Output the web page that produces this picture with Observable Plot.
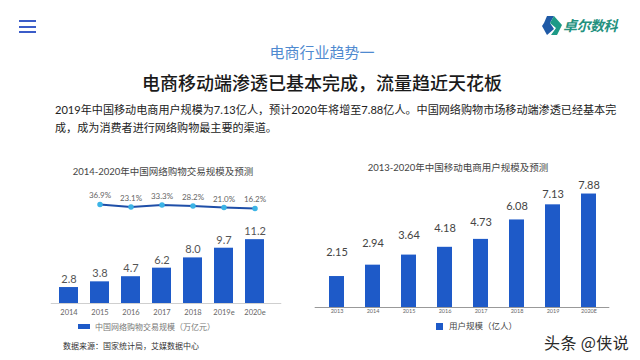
<!DOCTYPE html>
<html>
<head>
<meta charset="utf-8">
<script src="https://cdn.jsdelivr.net/npm/d3@7"></script>
<script src="https://cdn.jsdelivr.net/npm/@observablehq/plot@0.6"></script>
<style>
  html, body { margin: 0; padding: 0; background: #fff; }
  #page { position: relative; width: 640px; height: 360px; overflow: hidden; background: #fff;
    font-family: Lato, "Noto Sans CJK SC", sans-serif; }
  .abs { position: absolute; white-space: nowrap; }
  .burger { position: absolute; left: 19px; width: 17px; height: 2px; background: #3b5cc8; }
</style>
</head>
<body>
<div id="page">
  <div class="burger" style="top:20px"></div>
  <div class="burger" style="top:25.5px"></div>
  <div class="burger" style="top:31px"></div>

  <svg class="abs" style="left:542px;top:16px" width="20" height="19" viewBox="0 0 20 19">
    <polygon points="5,0 12,0 8,7 2,7" fill="#1f5aa6"/>
    <polygon points="2,7 8,7 12,13 5,19 0,10" fill="#1f5aa6"/>
    <polygon points="12,0 20,9 15,19 9,19 14,12 8,7" fill="#1d9a86"/>
  </svg>
  <div class="abs" style="left:563px;top:15px;font-size:14px;font-weight:bold;font-style:italic;color:#23917e;line-height:20px;font-family:'Noto Sans CJK SC';letter-spacing:-0.5px;">卓尔数科</div>

  <div class="abs" style="left:0;width:644px;top:42px;text-align:center;font-size:15px;line-height:20px;color:#4f8ad0;font-family:'Noto Sans CJK SC';">电商行业趋势一</div>
  <div class="abs" style="left:0;width:644px;top:70px;text-align:center;font-size:18px;line-height:24px;color:#1a1a1a;font-weight:500;font-family:'Noto Sans CJK SC';">电商移动端渗透已基本完成，流量趋近天花板</div>
  <div class="abs" style="left:55px;top:101px;font-size:11.1px;line-height:18px;color:#222;">2019年中国移动电商用户规模为7.13亿人，预计2020年将增至7.88亿人。中国网络购物市场移动端渗透已经基本完<br>成，成为消费者进行网络购物最主要的渠道。</div>

  <div class="abs" style="left:63px;width:200px;top:165px;text-align:center;font-size:9.5px;line-height:14px;color:#444;">2014-2020年中国网络购物交易规模及预测</div>
  <div class="abs" style="left:358px;width:200px;top:161px;text-align:center;font-size:9.5px;line-height:14px;color:#444;">2013-2020年中国移动电商用户规模及预测</div>

  <div id="leftLine" class="abs" style="left:40px;top:185px;"></div>
  <div id="leftBars" class="abs" style="left:40px;top:180px;"></div>
  <div id="rightBars" class="abs" style="left:300px;top:175px;"></div>

  <div class="abs" style="left:78px;top:324px;width:12px;height:5px;background:#1e5ac8;"></div>
  <div class="abs" style="left:95px;top:321px;font-size:8px;line-height:12px;color:#777;">中国网络购物交易规模（万亿元）</div>
  <div class="abs" style="left:436px;top:323px;width:7px;height:7px;background:#1e5ac8;"></div>
  <div class="abs" style="left:449px;top:320px;font-size:8.5px;line-height:13px;color:#444;">用户规模（亿人）</div>

  <div class="abs" style="left:63px;top:340px;font-size:8px;line-height:12px;color:#333;">数据来源：国家统计局，艾媒数据中心</div>

  <div class="abs" style="left:544px;top:331px;font-size:16px;line-height:22px;letter-spacing:0.4px;color:#2a2a2a;font-family:'Noto Sans CJK SC';">头条 @侠说</div>
</div>
<script>
// ---- data ----
const years1 = ["2014", "2015", "2016", "2017", "2018", "2019e", "2020e"];
const tradeScale = [2.8, 3.8, 4.7, 6.2, 8.0, 9.7, 11.2];
const growthYears = ["2015", "2016", "2017", "2018", "2019e", "2020e"];
const growthRate = [36.9, 23.1, 33.3, 28.2, 21.0, 16.2];
const years2 = ["2013", "2014", "2015", "2016", "2017", "2018", "2019", "2020E"];
const mobileUsers = [2.15, 2.94, 3.64, 4.18, 4.73, 6.08, 7.13, 7.88];

const BLUE = "#1e5ac8";
const FONT = "Lato, 'Noto Sans CJK SC', sans-serif";

const trade = years1.map((year, i) => ({year, value: tradeScale[i]}));
const growth = growthYears.map((year, i) => ({year, value: growthRate[i]}));
const users = years2.map((year, i) => ({year, value: mobileUsers[i]}));

const xLeft = {type: "band", domain: years1, paddingInner: 0.4, paddingOuter: 0.2};

// left: growth line
const linePlot = Plot.plot({
  width: 250, height: 40,
  marginLeft: 10.75, marginRight: 18.75, marginTop: 0, marginBottom: 0,
  style: {background: "transparent", fontFamily: FONT},
  x: {...xLeft, axis: null},
  y: {domain: [0, 100], range: [26, 6.8], axis: null},
  marks: [
    Plot.lineY(growth, {x: "year", y: "value", stroke: "#1f4fa8", strokeWidth: 2}),
    Plot.dot(growth, {x: "year", y: "value", r: 2, fill: "#3cb4e6", stroke: "#3cb4e6"}),
    Plot.text(growth, {x: "year", y: "value", text: d => d.value.toFixed(1) + "%", dy: -8.5, fontSize: 8, fill: "#666"})
  ]
});
document.getElementById("leftLine").appendChild(linePlot);

// left: bars
const leftPlot = Plot.plot({
  width: 250, height: 140,
  marginLeft: 10.75, marginRight: 18.75, marginTop: 10, marginBottom: 17,
  style: {background: "transparent", fontFamily: FONT},
  x: xLeft,
  y: {domain: [0, 113 / 5.7], axis: null},
  marks: [
    Plot.barY(trade, {x: "year", y: "value", fill: BLUE}),
    Plot.ruleY([0], {stroke: "#cfcfcf", insetRight: -10}),
    Plot.text(trade, {x: "year", y: "value", text: d => d.value.toFixed(1), dy: -8, fontSize: 11, fill: "#555"}),
    Plot.axisX({tickSize: 0, tickPadding: 6, fontSize: 7.5, color: "#666", label: null})
  ]
});
document.getElementById("leftBars").appendChild(leftPlot);

// right: bars
const rightPlot = Plot.plot({
  width: 325, height: 145,
  marginLeft: 16.7, marginRight: 15.7, marginTop: 5, marginBottom: 13,
  style: {background: "transparent", fontFamily: FONT},
  x: {type: "band", domain: years2, paddingInner: 0.58, paddingOuter: 0.29},
  y: {domain: [0, 127 / 14.4], axis: null},
  marks: [
    Plot.barY(users, {x: "year", y: "value", fill: BLUE}),
    Plot.ruleY([0], {stroke: "#999", insetLeft: -2}),
    Plot.text(users, {x: "year", y: d => d.value * 0.812 + 2.07, text: d => d.value.toFixed(2), fontSize: 11, fill: "#444"}),
    Plot.axisX({tickSize: 0, tickPadding: 2, fontSize: 5.5, color: "#666", label: null})
  ]
});
document.getElementById("rightBars").appendChild(rightPlot);
</script>
</body>
</html>
